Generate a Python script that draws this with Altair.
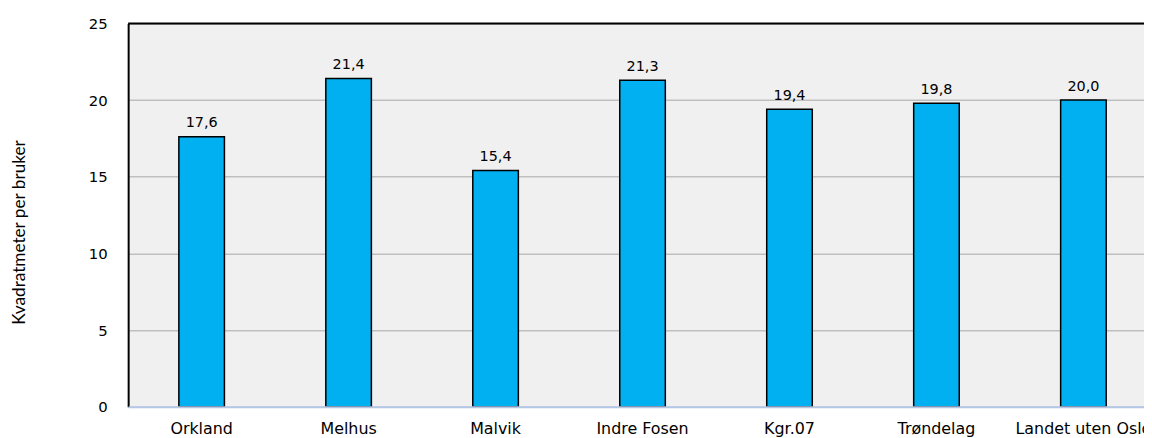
import altair as alt
import pandas as pd

categories = ["Orkland", "Melhus", "Malvik", "Indre Fosen", "Kgr.07", "Trøndelag", "Landet uten Oslo"]
values = [17.6, 21.4, 15.4, 21.3, 19.4, 19.8, 20.0]
y_ticks = [0, 5, 10, 15, 20, 25]
y_title = "Kvadratmeter per bruker"

df = pd.DataFrame({"kommune": categories, "verdi": values})
top_df = pd.DataFrame({"top": [max(y_ticks)]})

x_enc = alt.X(
    "kommune:N",
    sort=categories,
    scale=alt.Scale(paddingInner=0.69, paddingOuter=0.345, range=[0, 1036]),
    axis=alt.Axis(
        title=None, labelAngle=0, labelFont="DejaVu Sans", labelFontSize=16,
        labelColor="#000000", labelPadding=14, ticks=False,
        domainColor="#b4c7e7", domainWidth=2, grid=False, zindex=1,
    ),
)
y_enc = alt.Y(
    "verdi:Q",
    scale=alt.Scale(domain=[0, 25], nice=False),
    axis=alt.Axis(
        values=y_ticks, title=y_title, titleFont="Lato", titleFontSize=17.3,
        titleFontWeight="normal", titleColor="#000000",
        titleX=-109, titleY=210, titleAngle=270, titleAlign="center",
        titleBaseline="middle",
        labelFont="DejaVu Sans", labelFontSize=15, labelColor="#000000",
        labelPadding=21, ticks=False, domainColor="#000000", domainWidth=2,
        gridColor="#bfbfbf", gridWidth=1.5,
    ),
)

base = alt.Chart(df).encode(x=x_enc, y=y_enc)

bars = base.mark_bar(color="#00b0f0", stroke="#000000", strokeWidth=1.5)

labels = base.mark_text(
    dy=-9.5, baseline="alphabetic", font="DejaVu Sans", fontSize=14.5, color="#000000"
).transform_calculate(
    label="replace(format(datum.verdi, '.1f'), '.', ',')"
).encode(text="label:N")

top_line = alt.Chart(top_df).mark_rule(color="#000000", strokeWidth=2).encode(
    y=alt.Y("top:Q", scale=alt.Scale(domain=[0, 25], nice=False))
)

chart = alt.layer(bars, labels, top_line).properties(
    width=1023, height=386,
    padding={"left": 121, "top": 14, "right": 0, "bottom": 30},
    autosize=alt.AutoSizeParams(type="none"),
    background="#ffffff",
).configure_view(fill="#f0f0f0", stroke=None)

chart.save("out.html", embed_options={"renderer": "svg", "actions": False})
